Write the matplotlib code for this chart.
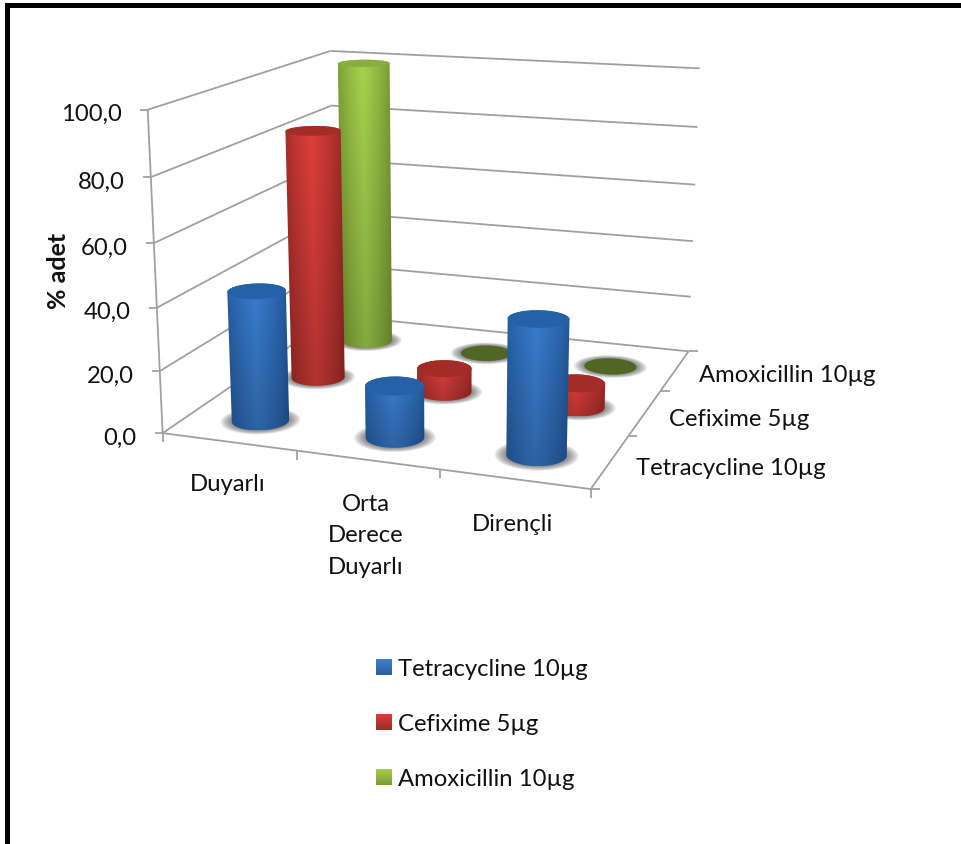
import numpy as np
import matplotlib
matplotlib.use("Agg")
import matplotlib.pyplot as plt
from matplotlib.patches import PathPatch, Polygon, Rectangle
from matplotlib.path import Path

# Chart data (percent of isolates per response class)
categories = ["Duyarlı", "Orta\nDerece\nDuyarlı", "Dirençli"]
series_names = ["Tetracycline 10µg", "Cefixime 5µg", "Amoxicillin 10µg"]
tetracycline = [42.0, 16.5, 42.0]
cefixime = [84.0, 8.0, 8.0]
amoxicillin = [100.0, 0.0, 0.0]
value_ticks = [0, 20, 40, 60, 80, 100]

W, H = 961, 845
FONT = "Lato"
GRID = "#a0a0a0"
TEXT = "#111111"
FS = 17.2

# Camera: maps (category, series, value) onto the canvas via a homography
anchors = [
    ((0, 0, 0), (163, 434)),
    ((3, 0, 0), (590, 491)),
    ((3, 3, 0), (689, 351)),
    ((0, 3, 0), (335, 317)),
    ((0, 0, 100), (148, 110)),
    ((0, 3, 100), (330, 52)),
    ((3, 3, 100), (700, 70)),
]
# Where the columns sit along the category and depth axes
COLUMN_POS = [0.52, 1.52, 2.515]
ROW_DEPTH = [0.45, 1.45, 2.43]


def fit_camera(pairs):
    rows = []
    for (a, b, c), (u, v) in pairs:
        p = [a, b, c / 100.0, 1.0]
        rows.append(p + [0, 0, 0, 0] + [-u * q for q in p])
        rows.append([0, 0, 0, 0] + p + [-v * q for q in p])
    return np.linalg.svd(np.array(rows, float))[2][-1].reshape(3, 4)


CAM = fit_camera(anchors)


def project(x, y, z):
    x, y, z = np.broadcast_arrays(np.asarray(x, float), np.asarray(y, float), np.asarray(z, float))
    pts = np.stack([x, y, z / 100.0, np.ones_like(x)], axis=0)
    u, v, w = CAM @ pts.reshape(4, -1)
    return (u / w).reshape(x.shape), (v / w).reshape(x.shape)


def hull(points):
    pts = sorted(map(tuple, points))
    def half(seq):
        out = []
        for p in seq:
            while len(out) > 1:
                (ax, ay), (bx, by) = out[-2], out[-1]
                if (bx - ax) * (p[1] - ay) - (by - ay) * (p[0] - ax) > 0:
                    break
                out.pop()
            out.append(p)
        return out[:-1]
    return np.array(half(pts) + half(pts[::-1]))


fig = plt.figure(figsize=(W / 100, H / 100), dpi=100, facecolor="white")
ax = fig.add_axes([0, 0, 1, 1])
ax.set_xlim(0, W)
ax.set_ylim(H, 0)
ax.axis("off")

# Page frame
ax.add_patch(Rectangle((5, 4), W, 4.5, fc="black", ec="none", zorder=1))
ax.add_patch(Rectangle((5, 4), 5, H, fc="black", ec="none", zorder=1))


def seg(p, q, **kw):
    ax.plot([p[0], q[0]], [p[1], q[1]], color=GRID, lw=1.3, solid_capstyle="butt", zorder=2, **kw)


# Walls and floor
for v in value_ticks:
    a, b, c = project(0, 0, v), project(0, 3, v), project(3, 3, v)
    seg(a, b)
    seg(b, c)
    seg((a[0] - 8, a[1]), a)
seg(project(0, 0, 0), project(0, 0, 100))
seg(project(0, 0, 0), project(3, 0, 0))
seg(project(3, 0, 0), project(3, 3, 0))
for i in range(4):
    p = project(i, 0, 0)
    seg(p, (p[0], p[1] + 9))
    q = project(3, i, 0)
    seg(q, (q[0] + 9, q[1]))

RADIUS = 0.198
ANG = np.linspace(0, 2 * np.pi, 121)
STYLES = {
    0: dict(mid=(0.225, 0.490, 0.810), edge=(0.135, 0.345, 0.610), top="#2660a6"),
    1: dict(mid=(0.870, 0.250, 0.230), edge=(0.610, 0.160, 0.145), top="#a42c28"),
    2: dict(mid=(0.650, 0.830, 0.310), edge=(0.465, 0.590, 0.190), top="#88ad40"),
}
FLAT_TOP = {2: "#4f6625"}


def ring(cx, cy, z, r):
    return np.column_stack(project(cx + r * np.cos(ANG), cy + r * np.sin(ANG), np.full_like(ANG, z)))


def draw_cylinder(cx, cy, value, style, series_idx, zo):
    # Soft contact shadow on the floor
    for f in np.linspace(1.40, 1.0, 12):
        ax.add_patch(Polygon(ring(cx, cy, 0, RADIUS * f), closed=True, fc="#4a4a4a", ec="none",
                             alpha=0.075, zorder=zo))
    if value <= 0:
        ax.add_patch(Polygon(ring(cx, cy, 0, RADIUS), closed=True, fc=FLAT_TOP[series_idx], ec="none", zorder=zo + 0.1))
        return
    bottom, top = ring(cx, cy, 0, RADIUS), ring(cx, cy, value, RADIUS)
    outline = hull(np.vstack([bottom, top]))
    x0, x1 = outline[:, 0].min(), outline[:, 0].max()
    y0, y1 = outline[:, 1].min(), outline[:, 1].max()
    gx, gy = np.meshgrid(np.linspace(x0, x1, 160), np.linspace(y0, y1, 260))
    tb = np.clip((gy - y0) / (y1 - y0), 0, 1)
    xl = top[:, 0].min() + (bottom[:, 0].min() - top[:, 0].min()) * tb
    xr = top[:, 0].max() + (bottom[:, 0].max() - top[:, 0].max()) * tb
    t = np.clip((gx - xl) / (xr - xl), 0, 1)
    light = np.clip(1 - np.abs(t - 0.47) / 0.53, 0, 1) ** 0.75
    mid, edge = np.array(style["mid"]), np.array(style["edge"])
    img = edge[None, None, :] + (mid - edge)[None, None, :] * light[..., None]
    img = img * (1.0 - 0.20 * tb[..., None])
    im = ax.imshow(np.clip(img, 0, 1), extent=(x0, x1, y1, y0), origin="upper", aspect="auto",
                   interpolation="bilinear", zorder=zo + 0.1)
    clip = PathPatch(Path(np.vstack([outline, outline[:1]])), transform=ax.transData, fc="none", ec="none")
    ax.add_patch(clip)
    im.set_clip_path(clip)
    ax.add_patch(Polygon(top, closed=True, fc=style["top"], ec="none", zorder=zo + 0.2))


groups = [tetracycline, cefixime, amoxicillin]
for s in (2, 1, 0):
    for c in range(3):
        draw_cylinder(COLUMN_POS[c], ROW_DEPTH[s], groups[s][c], STYLES[s], s, 5 + (2 - s) + c * 0.01)

ax.set_xlim(0, W)
ax.set_ylim(H, 0)

# Value axis labels follow the tilt of the axis line
for v in value_ticks:
    p = project(0, 0, v)
    ax.text(p[0] - 26, p[1] + 2, f"{v:.1f}".replace(".", ","), ha="right", va="center_baseline",
            family=FONT, fontsize=FS, color=TEXT, zorder=20)
ax.text(58, 271, "% adet", rotation=90, ha="center", va="center", family=FONT, fontsize=18,
        fontweight="bold", color=TEXT, zorder=20)

# Category and depth labels
for label, xc, yc in zip(categories, (228, 366, 513), (485, 536, 525)):
    ax.text(xc, yc, label, ha="center", va="center", family=FONT, fontsize=FS, color=TEXT,
            linespacing=1.6, zorder=20)
for label, xl_, yc in zip(series_names, (636, 669, 699), (469, 420, 376)):
    ax.text(xl_, yc, label, ha="left", va="center", family=FONT, fontsize=FS, color=TEXT, zorder=20)

# Legend
LEGEND_TOP = [(0.250, 0.500, 0.800), (0.825, 0.255, 0.235), (0.650, 0.800, 0.300)]
LEGEND_BOT = [(0.165, 0.365, 0.630), (0.620, 0.170, 0.155), (0.490, 0.610, 0.210)]
for name, yc, a, b in zip(series_names, (668, 723, 778), LEGEND_TOP, LEGEND_BOT):
    grad = np.linspace(a, b, 32)[:, None, :]
    ax.imshow(grad, extent=(376, 392, yc + 8, yc - 8), origin="upper", aspect="auto", zorder=10)
    ax.text(398, yc + 2, name, ha="left", va="center", family=FONT, fontsize=FS, color=TEXT, zorder=20)
ax.set_xlim(0, W)
ax.set_ylim(H, 0)

fig.savefig("out.png", dpi=100, facecolor="white")
